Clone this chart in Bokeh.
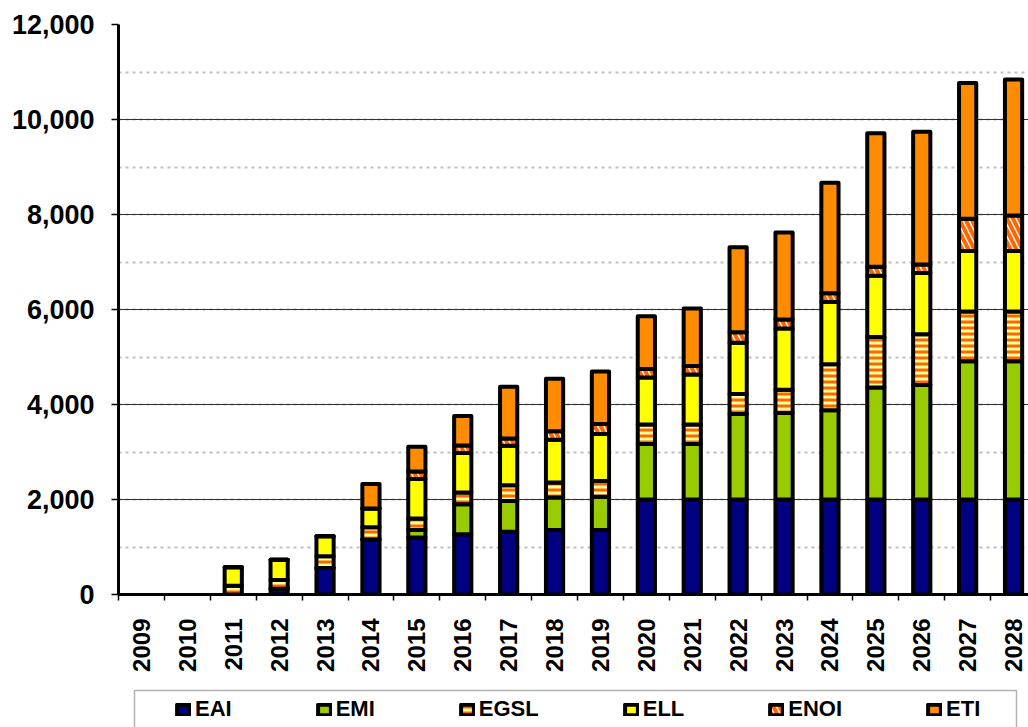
from bokeh.plotting import figure
from bokeh.layouts import column
from bokeh.models import (ColumnDataSource, Range1d, FixedTicker, SingleIntervalTicker,
                          NumeralTickFormatter, Legend, LegendItem, BoxAnnotation)
from bokeh.transform import stack
from bokeh.embed import file_html
from bokeh.resources import INLINE
from math import pi

years = [str(y) for y in range(2009, 2029)]
EAI  = [0, 0, 0, 120, 560, 1160, 1200, 1270, 1320, 1360, 1360, 2000, 2000, 2000, 2000, 2000, 2000, 2000, 2000, 2000]
EMI  = [0, 0, 0, 0, 0, 0, 160, 630, 650, 680, 700, 1170, 1170, 1800, 1820, 1880, 2360, 2410, 2910, 2910]
EGSL = [0, 0, 185, 185, 245, 255, 240, 250, 330, 320, 330, 410, 410, 420, 490, 970, 1060, 1070, 1050, 1050]
ELL  = [0, 0, 390, 425, 420, 395, 830, 830, 830, 900, 990, 990, 1050, 1080, 1290, 1310, 1290, 1290, 1270, 1270]
ENOI = [0, 0, 0, 0, 0, 0, 160, 155, 155, 175, 210, 180, 180, 220, 190, 180, 190, 180, 680, 750]
ETI  = [0, 0, 0, 0, 0, 515, 520, 625, 1090, 1105, 1105, 1110, 1210, 1790, 1830, 2330, 2810, 2790, 2860, 2860]
series = ["EAI", "EMI", "EGSL", "ELL", "ENOI", "ETI"]

FONT = "Liberation Sans"
xpos = [i + 0.5 for i in range(len(years))]
totals = [sum(v) for v in zip(EAI, EMI, EGSL, ELL, ENOI, ETI)]
edge = [1.0 if t > 0 else 0.0 for t in totals]   # no outline for empty years
src = ColumnDataSource(dict(x=xpos, EAI=EAI, EMI=EMI, EGSL=EGSL, ELL=ELL, ENOI=ENOI, ETI=ETI,
                            edge=edge))

W = 1028
H_MAIN, H_LEG = 688, 39
LEFT = 118
p = figure(width=W, height=H_MAIN, output_backend="svg", toolbar_location=None,
           x_range=Range1d(0, (W - LEFT) / 45.9), y_range=Range1d(0, 12000),
           min_border_left=LEFT, min_border_right=0, min_border_top=24, min_border_bottom=94)
p.outline_line_color = None

styles = {
    "EAI":  dict(fill_color="#000080"),
    "EMI":  dict(fill_color="#99CC00"),
    "EGSL": dict(fill_color="#FFFF99", hatch_pattern="horizontal_line", hatch_color="#FF6600",
                 hatch_scale=6, hatch_weight=3),
    "ELL":  dict(fill_color="#FFFF00"),
    "ENOI": dict(fill_color="#FFFFFF", hatch_pattern="left_diagonal_line", hatch_color="#FF6600",
                 hatch_scale=12, hatch_weight=4),
    "ETI":  dict(fill_color="#FF8C00"),
}

bottom_cols = []
for s in series:
    bot = stack(*bottom_cols) if bottom_cols else 0
    top = stack(*(bottom_cols + [s]))
    p.vbar(x="x", width=0.375, bottom=bot, top=top, source=src,
           line_color="black", line_width=4, line_join="round", line_alpha="edge", **styles[s])
    bottom_cols.append(s)

# y axis
p.yaxis.ticker = SingleIntervalTicker(interval=2000, num_minor_ticks=2)
p.yaxis.formatter = NumeralTickFormatter(format="0,0")
p.yaxis.major_label_text_font = FONT
p.yaxis.major_label_text_font_style = "bold"
p.yaxis.major_label_text_font_size = "27px"
p.yaxis.major_label_text_color = "black"
p.yaxis.axis_line_width = 3
p.yaxis.axis_line_color = "black"
p.yaxis.major_tick_out = 7
p.yaxis.major_tick_in = 0
p.yaxis.major_tick_line_width = 1.5
p.yaxis.minor_tick_line_color = None
p.yaxis.major_label_standoff = 17

# x axis
p.xaxis.ticker = FixedTicker(ticks=xpos, minor_ticks=list(range(len(years) + 1)))
p.xaxis.major_label_overrides = {x: y for x, y in zip(xpos, years)}
p.xaxis.major_label_orientation = pi / 2
p.xaxis.major_label_text_font = FONT
p.xaxis.major_label_text_font_style = "bold"
p.xaxis.major_label_text_font_size = "24px"
p.xaxis.major_label_text_color = "black"
p.xaxis.major_tick_line_color = None
p.xaxis.major_tick_out = 0
p.xaxis.major_tick_in = 0
p.xaxis.minor_tick_line_color = "black"
p.xaxis.minor_tick_line_width = 1.5
p.xaxis.minor_tick_out = 6
p.xaxis.minor_tick_in = 0
p.xaxis.axis_line_width = 3
p.xaxis.axis_line_color = "black"
p.xaxis.major_label_standoff = 18

# grid
p.xgrid.grid_line_color = None
p.ygrid.grid_line_color = "#333333"
p.ygrid.grid_line_width = 1.2
p.ygrid.minor_grid_line_color = "#C0C0C0"
p.ygrid.minor_grid_line_width = 2
p.ygrid.minor_grid_line_dash = "3 4"

# legend strip below the chart (its frame is aligned with the chart frame)
lg = figure(width=W, height=H_LEG, output_backend="svg", toolbar_location=None,
            x_range=Range1d(LEFT, W), y_range=Range1d(0, H_LEG),
            x_axis_type=None, y_axis_type=None, min_border=0, min_border_left=LEFT)
lg.outline_line_color = None
lg.xgrid.grid_line_color = None
lg.ygrid.grid_line_color = None
# one undrawn (NaN) sample per series so the legend swatches get drawn
swatch = ColumnDataSource(dict(x=[float("nan")], top=[float("nan")]))
items = []
for s in series:
    r = lg.vbar(x="x", top="top", width=1, source=swatch,
                line_color="black", line_width=4, line_join="round", **styles[s])
    items.append(LegendItem(label=s, renderers=[r]))
lg.add_layout(BoxAnnotation(left=134, right=1016, bottom=-20, top=H_LEG - 2,
                            fill_color=None, line_color="black", line_width=1.5))
legend = Legend(items=items, orientation="horizontal", location=(175 - LEFT, 5),
                padding=0, spacing=84, label_standoff=4, glyph_width=16, glyph_height=13,
                label_text_font=FONT, label_text_font_style="bold", label_text_font_size="22px",
                label_text_color="black",
                border_line_color=None, background_fill_alpha=0, margin=0)
lg.add_layout(legend)

open("out.html", "w").write(file_html(column(p, lg, spacing=0), INLINE))
